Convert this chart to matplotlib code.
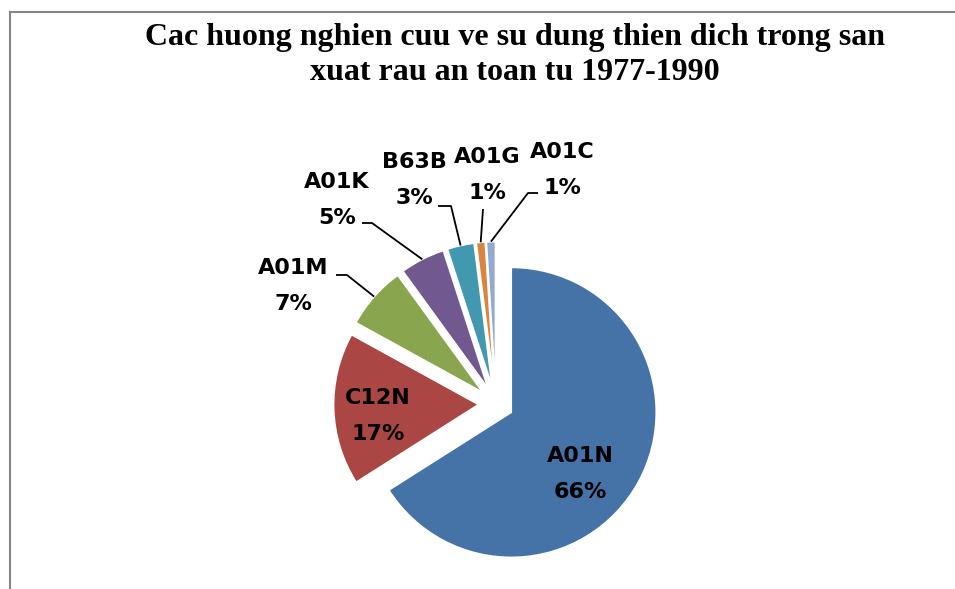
import matplotlib
matplotlib.use("Agg")
import matplotlib.pyplot as plt
import numpy as np

# chart data
labels = ["A01N", "C12N", "A01M", "A01K", "B63B", "A01G", "A01C"]
shares = [66, 17, 7, 5, 3, 1, 1]
colors = ["#4572A7", "#AA4643", "#89A54E", "#71588F", "#4198AF", "#DB843D", "#93A9CF"]
title = "Cac huong nghien cuu ve su dung thien dich trong san\nxuat rau an toan tu 1977-1990"

# layout: pie centre at pixel (496, 404), radius 145 px
W, H = 955, 589
cx, cy, R = 496, 404, 145
explode_amt = 0.12


def px(x, y):
    # pixel -> data units
    return (x - cx) / R, (cy - y) / R


fig = plt.figure(figsize=(W / 100, H / 100), dpi=100)
ax = fig.add_axes([0, 0, 1, 1])

wedges, _ = ax.pie(shares, colors=colors, startangle=90, counterclock=False,
                   explode=[explode_amt] * len(shares), radius=1.0,
                   wedgeprops=dict(edgecolor="white", linewidth=1.2))

ax.set_xlim(px(0, 0)[0], px(W, 0)[0])
ax.set_ylim(px(0, H)[1], px(0, 0)[1])
ax.set_aspect("equal")
ax.axis("off")

lab_font = dict(fontsize=16, fontweight="bold", family="DejaVu Sans",
                ha="center", va="center", linespacing=2.0, color="black")

# inside labels
inside = {"A01N": px(580, 474), "C12N": px(378, 416)}
# outside labels: text centre, leader points (pixel space)
outside = {
    "A01M": ((293, 286), [(336, 275), (347, 275)]),
    "A01K": ((337, 200), [(362, 223), (372, 223)]),
    "B63B": ((414, 180), [(438, 206), (451, 206)]),
    "A01G": ((487, 175), [(483, 209)]),
    "A01C": ((562, 170), [(538, 193), (528, 193)]),
}

for w, name, val in zip(wedges, labels, shares):
    txt = f"{name}\n{val}%"
    if name in inside:
        ax.text(*inside[name], txt, **lab_font)
        continue
    (tx, ty), pts = outside[name]
    ax.text(*px(tx, ty), txt, **lab_font)
    mid = np.deg2rad((w.theta1 + w.theta2) / 2)
    c = w.center
    end = (c[0] + np.cos(mid) * w.r, c[1] + np.sin(mid) * w.r)
    path = [px(*p) for p in pts] + [end]
    xs, ys = zip(*path)
    ax.plot(xs, ys, color="black", lw=1.3, solid_capstyle="butt")

fig.text(515 / W, 1 - 55 / H, title, ha="center", va="center",
         fontsize=23, fontweight="bold", family="Liberation Serif", linespacing=1.25)

# chart frame
fig.add_artist(plt.Line2D([10 / W, 10 / W], [0, 1 - 12 / H], color="#868686", lw=1.5,
                          transform=fig.transFigure))
fig.add_artist(plt.Line2D([10 / W, 1], [1 - 12 / H, 1 - 12 / H], color="#868686", lw=1.5,
                          transform=fig.transFigure))

fig.savefig("out.png", dpi=100, facecolor="white")
